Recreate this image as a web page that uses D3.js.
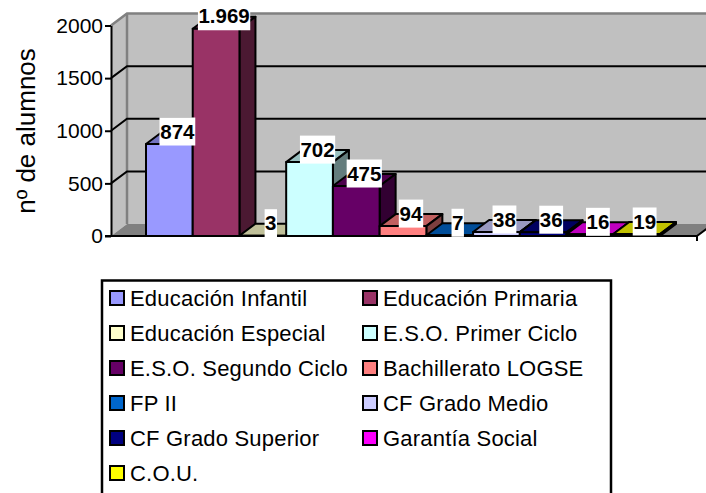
<!DOCTYPE html>
<html>
<head>
<meta charset="utf-8">
<script src="https://cdn.jsdelivr.net/npm/d3@7"></script>
<style>
  html, body { margin: 0; padding: 0; background: #fff; overflow: hidden; }
  text { font-family: "Liberation Sans", Arial, sans-serif; fill: #000; }
</style>
</head>
<body>
<div id="chart"></div>
<script>
const categories = ["Educación Infantil","Educación Primaria","Educación Especial","E.S.O. Primer Ciclo","E.S.O. Segundo Ciclo","Bachillerato LOGSE","FP II","CF Grado Medio","CF Grado Superior","Garantía Social","C.O.U."];
const values = [874,1969,3,702,475,94,7,38,36,16,19];
const valueLabels = ["874","1.969","3","702","475","94","7","38","36","16","19"];
const colors = ["#9999ff","#993366","#ffffcc","#ccffff","#660066","#ff8080","#0066cc","#ccccff","#000080","#ff00ff","#ffff00"];
const yTicks = [0,500,1000,1500,2000];

const width = 706, height = 493;
const dx = 16, dy = -12;
const left = 111, right = 697;

const svg = d3.select("#chart").append("svg")
  .attr("width", width)
  .attr("height", height)
  .style("display", "block");

const y = d3.scaleLinear().domain([0,2000]).range([236,25.5]);
const x = d3.scaleBand().domain(categories).range([146,660]);

const poly = pts => pts.map(p => p.join(",")).join(" ");

// walls and floor
svg.append("polygon")
  .attr("points", poly([[left,y(0)],[left+dx,y(0)+dy],[left+dx,y(2000)+dy],[left,y(2000)]]))
  .attr("fill", "#c0c0c0");
svg.append("rect")
  .attr("x", left+dx).attr("y", y(2000)+dy)
  .attr("width", width-left-dx).attr("height", y(0)-y(2000))
  .attr("fill", "#c0c0c0");
svg.append("polygon")
  .attr("points", poly([[left,y(0)],[left+dx,y(0)+dy],[right+dx,y(0)+dy],[right,y(0)]]))
  .attr("fill", "#808080");

// grey frame of the walls
svg.append("polyline")
  .attr("points", poly([[left,y(2000)],[left+dx,y(2000)+dy],[width,y(2000)+dy]]))
  .attr("fill", "none").attr("stroke", "#808080").attr("stroke-width", 2.5);
svg.append("line")
  .attr("x1", left+dx).attr("x2", left+dx)
  .attr("y1", y(2000)+dy).attr("y2", y(0)+dy)
  .attr("stroke", "#808080").attr("stroke-width", 2.5);

// gridlines
svg.selectAll(".grid")
  .data(yTicks.filter(d => d>0 && d<2000))
  .enter().append("polyline")
  .attr("class", "grid")
  .attr("points", d => poly([[left,y(d)],[left+dx,y(d)+dy],[width,y(d)+dy]]))
  .attr("fill", "none").attr("stroke", "#000").attr("stroke-width", 2);

// y axis
const yAxis = d3.axisLeft(y).tickValues(yTicks).tickFormat(d3.format("d")).tickSize(6).tickPadding(2).tickSizeOuter(0);
const axisG = svg.append("g")
  .attr("transform", `translate(${left},0)`)
  .call(yAxis);
axisG.selectAll("path,line").attr("stroke", "#000").attr("stroke-width", 2);
axisG.selectAll("text").attr("font-size", 21).attr("font-family", "Liberation Sans");

// front floor edge
svg.append("line")
  .attr("x1", left-6).attr("x2", right)
  .attr("y1", y(0)).attr("y2", y(0))
  .attr("stroke", "#000").attr("stroke-width", 2);
svg.append("polyline")
  .attr("points", poly([[right,y(0)+5],[right,y(0)],[right+dx,y(0)+dy]]))
  .attr("fill", "none").attr("stroke", "#000").attr("stroke-width", 2);

// bars, left to right so each one covers the side of the one before
const bars = svg.selectAll(".bar")
  .data(categories)
  .enter().append("g")
  .attr("class", "bar");

bars.append("polygon") // top
  .attr("points", (d,i) => {
    const a = x(d), b = a + x.bandwidth(), t = y(values[i]);
    return poly([[a,t],[a+dx,t+dy],[b+dx,t+dy],[b,t]]);
  })
  .attr("fill", (d,i) => d3.rgb(colors[i]).darker(0.8).formatHex());
bars.append("polygon") // side
  .attr("points", (d,i) => {
    const b = x(d) + x.bandwidth(), t = y(values[i]);
    return poly([[b,t],[b+dx,t+dy],[b+dx,y(0)+dy],[b,y(0)]]);
  })
  .attr("fill", (d,i) => d3.rgb(colors[i]).darker(2).formatHex());
bars.append("rect") // front
  .attr("x", d => x(d))
  .attr("y", (d,i) => y(values[i]))
  .attr("width", x.bandwidth())
  .attr("height", (d,i) => y(0)-y(values[i]))
  .attr("fill", (d,i) => colors[i]);
bars.selectAll("polygon,rect")
  .attr("stroke", "#000").attr("stroke-width", 2).attr("stroke-linejoin", "round");

// value labels on white boxes
const labels = svg.selectAll(".val")
  .data(valueLabels)
  .enter().append("g")
  .attr("class", "val")
  .attr("transform", (d,i) => `translate(${x(categories[i])+x.bandwidth()/2+8},${y(values[i])-12.5})`);
labels.append("text")
  .attr("text-anchor", "middle")
  .attr("dy", "0.35em")
  .attr("font-size", 20.5)
  .attr("font-weight", "bold")
  .text(d => d);
labels.insert("rect", "text")
  .attr("fill", "#fff")
  .attr("y", -14).attr("height", 28)
  .each(function() {
    const w = this.parentNode.querySelector("text").getBBox().width + 1;
    d3.select(this).attr("x", -w/2).attr("width", w);
  });

// axis title
svg.append("text")
  .attr("transform", "translate(35,131) rotate(-90)")
  .attr("text-anchor", "middle")
  .attr("font-size", 26)
  .text("nº de alumnos");

// legend
svg.append("rect")
  .attr("x", 102).attr("y", 280.5)
  .attr("width", 509).attr("height", 230)
  .attr("fill", "#fff").attr("stroke", "#000").attr("stroke-width", 2.5);

const legendCol = d3.scalePoint().domain([0,1]).range([110,363]);
const legendRow = d3.scaleLinear().domain([0,5]).range([298,473]);
const items = svg.selectAll(".legend")
  .data(categories)
  .enter().append("g")
  .attr("class", "legend")
  .attr("transform", (d,i) => `translate(${legendCol(i%2)},${legendRow(Math.floor(i/2))})`);
items.append("rect")
  .attr("x", 0).attr("y", -7).attr("width", 14).attr("height", 14)
  .attr("fill", (d,i) => colors[i])
  .attr("stroke", "#000").attr("stroke-width", 2);
items.append("text")
  .attr("x", 20).attr("dy", "0.35em")
  .attr("font-size", 22)
  .attr("letter-spacing", 0.2)
  .text(d => d);
</script>
</body>
</html>
